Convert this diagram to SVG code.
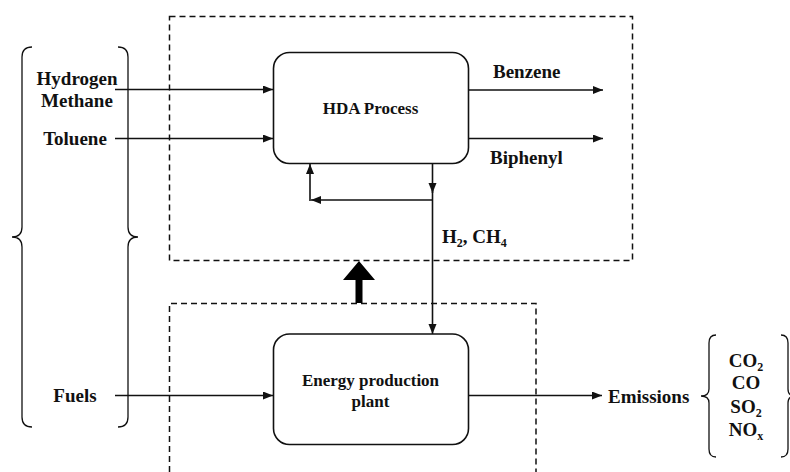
<svg xmlns="http://www.w3.org/2000/svg" width="790" height="472" viewBox="0 0 790 472">
<style>
text{font-family:'Liberation Serif','Times New Roman',serif;font-weight:bold;fill:#111}
.lbl{font-size:19px}
.box{font-size:17px}
.sub{font-size:12px}
.node{fill:#fff;stroke:#111;stroke-width:1.6}
.dash{fill:none;stroke:#111;stroke-width:1.5;stroke-dasharray:6,4}
.ln{fill:none;stroke:#111;stroke-width:1.6}
.brace{fill:none;stroke:#111;stroke-width:1.3}
</style>
<defs>
<marker id="ah" markerUnits="userSpaceOnUse" markerWidth="11" markerHeight="9" refX="10" refY="4" orient="auto">
<path d="M0,0 L10,4 L0,8 z" fill="#111"/>
</marker>
</defs>
<g id="boundaries">
<rect class="dash" x="169.5" y="16.5" width="463" height="244"/>
<path class="dash" d="M169.5,472 V303.5 H536 V472"/>
</g>
<g id="input-brace">
<path class="brace" d="M32,47 Q22,47 22,57 V227 Q22,237 12,237 Q22,237 22,247 V417 Q22,427 32,427"/>
<path class="brace" d="M118,47 Q128,47 128,57 V227 Q128,237 138,237 Q128,237 128,247 V417 Q128,427 118,427"/>
</g>
<g id="emission-brace">
<path class="brace" d="M716,335 Q709,335 709,343 V389 Q709,396 701,396 Q709,396 709,403 V449 Q709,457 716,457"/>
<path class="brace" d="M781,335 Q788,335 788,343 V389 Q788,396 795,396 Q788,396 788,403 V449 Q788,457 781,457"/>
</g>
<g id="connectors">
<path class="ln" d="M115,89.5 H273" marker-end="url(#ah)"/>
<path class="ln" d="M115,138.5 H273" marker-end="url(#ah)"/>
<path class="ln" d="M468,90 H603" marker-end="url(#ah)"/>
<path class="ln" d="M468,138.5 H603" marker-end="url(#ah)"/>
<path class="ln" d="M432.5,163 V193" marker-end="url(#ah)"/>
<path class="ln" d="M432.5,190 V334" marker-end="url(#ah)"/>
<path class="ln" d="M432.5,200 H311" marker-end="url(#ah)"/>
<path class="ln" d="M310,201 V164" marker-end="url(#ah)"/>
<path class="ln" d="M115,395.5 H273" marker-end="url(#ah)"/>
<path class="ln" d="M468,395.5 H602" marker-end="url(#ah)"/>
<polygon points="355.5,303 362.5,303 362.5,280 375,280 359,261 343,280 355.5,280" fill="#000"/>
</g>
<g id="hda">
<rect class="node" x="273.5" y="52.5" width="195" height="111" rx="16"/>
<text class="box" x="370.5" y="114" text-anchor="middle">HDA Process</text>
</g>
<g id="energy">
<rect class="node" x="273.5" y="334" width="195" height="110.5" rx="16"/>
<text class="box" x="370.5" y="386" text-anchor="middle">Energy production</text>
<text class="box" x="370.5" y="407" text-anchor="middle">plant</text>
</g>
<g id="labels">
<text class="lbl" x="77" y="85" text-anchor="middle">Hydrogen</text>
<text class="lbl" x="77" y="107" text-anchor="middle">Methane</text>
<text class="lbl" x="75" y="145" text-anchor="middle">Toluene</text>
<text class="lbl" x="75" y="402" text-anchor="middle">Fuels</text>
<text class="lbl" x="493" y="78">Benzene</text>
<text class="lbl" x="490" y="164">Biphenyl</text>
<text class="lbl" x="442" y="243">H<tspan class="sub" dy="4">2</tspan><tspan dy="-4">, CH</tspan><tspan class="sub" dy="4">4</tspan></text>
<text class="lbl" x="608" y="403">Emissions</text>
<text class="lbl" x="746" y="367" text-anchor="middle">CO<tspan class="sub" dy="4">2</tspan></text>
<text class="lbl" x="746" y="389" text-anchor="middle">CO</text>
<text class="lbl" x="746" y="413" text-anchor="middle">SO<tspan class="sub" dy="4">2</tspan></text>
<text class="lbl" x="746" y="436" text-anchor="middle">NO<tspan class="sub" dy="4">x</tspan></text>
</g>
</svg>
